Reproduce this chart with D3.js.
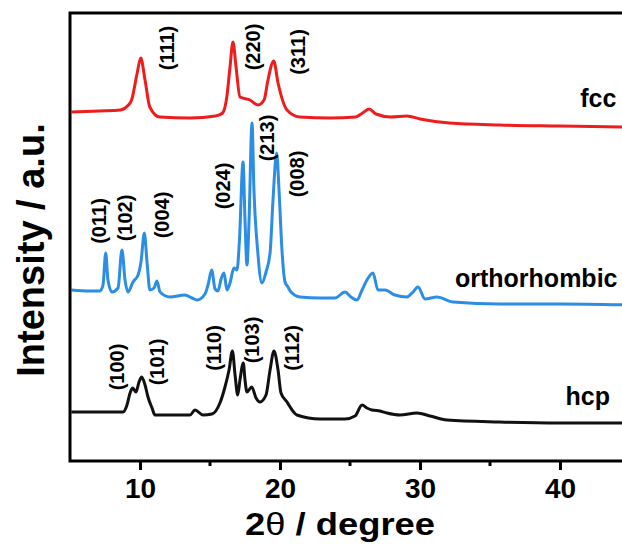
<!DOCTYPE html>
<html>
<head>
<meta charset="utf-8">
<script src="https://cdn.jsdelivr.net/npm/d3@7"></script>
<style>
  html, body { margin: 0; padding: 0; background: #fff; }
  svg { display: block; font-family: "Liberation Sans", Arial, sans-serif; font-weight: bold; }
</style>
</head>
<body>
<svg id="chart" width="622" height="547"></svg>
<script>
// XRD patterns, [2theta (deg), intensity (a.u., stacked)]
const fcc = [
  [5.1, 3490], [7.1, 3500], [8.6, 3510], [9.1, 3550], [9.4, 3610], [9.8, 3880],
  [10.05, 4030], [10.36, 3810], [10.7, 3540], [11.4, 3440], [13.6, 3430],
  [15.4, 3450], [15.9, 3480], [16.2, 3640], [16.43, 3940], [16.64, 4190],
  [16.86, 3940], [17.14, 3640], [17.86, 3610], [18.43, 3560], [18.86, 3610],
  [19.14, 3810], [19.55, 4000], [19.86, 3780], [20.5, 3510], [21.4, 3440],
  [23.6, 3430], [25.4, 3440], [25.9, 3480], [26.36, 3520], [26.86, 3470],
  [27.9, 3440], [29.07, 3450], [30.0, 3420], [32.1, 3380], [35.7, 3360],
  [40.0, 3350], [45.0, 3340]
];

const ortho = [
  [5.1, 1710], [6.4, 1700], [7.14, 1700], [7.36, 1760], [7.55, 2080], [7.71, 1810],
  [8.0, 1690], [8.43, 1730], [8.71, 2110], [8.93, 1810], [9.14, 1690], [9.5, 1790],
  [9.86, 1860], [10.07, 1990], [10.31, 2280], [10.5, 1990], [10.71, 1710],
  [11.0, 1730], [11.21, 1800], [11.43, 1690], [12.14, 1640], [13.21, 1660],
  [13.71, 1630], [14.07, 1610], [14.64, 1670], [14.86, 1760], [15.12, 1910],
  [15.36, 1720], [15.57, 1700], [15.79, 1820], [16.0, 1880], [16.21, 1710],
  [16.43, 1780], [16.71, 1930], [16.93, 1910], [17.1, 2200], [17.36, 2990],
  [17.5, 2410], [17.64, 1960], [17.79, 2410], [18.0, 3380], [18.14, 2710],
  [18.4, 2110], [18.71, 1780], [19.0, 1890], [19.29, 2080], [19.5, 2610],
  [19.76, 3080], [19.93, 2710], [20.14, 2110], [20.36, 1790], [20.57, 1740],
  [20.79, 1690], [21.43, 1640], [22.86, 1630], [23.93, 1630], [24.64, 1690],
  [25.07, 1640], [25.5, 1610], [25.86, 1710], [26.21, 1810], [26.64, 1880],
  [27.0, 1710], [27.5, 1710], [28.21, 1660], [29.07, 1640], [29.5, 1690],
  [29.86, 1740], [30.36, 1620], [31.21, 1640], [32.36, 1590], [35.7, 1570],
  [40.0, 1570], [45.0, 1560]
];

const hcp = [
  [5.1, 490], [7.14, 490], [8.79, 490], [9.07, 560], [9.29, 680], [9.48, 730],
  [9.71, 690], [9.93, 790], [10.12, 840], [10.36, 760], [10.57, 640],
  [10.86, 530], [11.07, 460], [12.5, 460], [13.57, 460], [13.93, 510],
  [14.5, 460], [15.14, 470], [15.71, 580], [16.07, 740], [16.36, 910],
  [16.6, 1100], [16.79, 860], [16.98, 660], [17.14, 810], [17.38, 980],
  [17.5, 810], [17.64, 690], [17.98, 740], [18.29, 630], [18.57, 590],
  [19.0, 660], [19.29, 910], [19.57, 1100], [19.86, 910], [20.07, 680],
  [20.5, 590], [20.86, 510], [21.21, 460], [22.86, 420], [24.64, 420],
  [25.36, 450], [25.86, 560], [26.21, 530], [26.57, 510], [27.14, 500],
  [27.64, 480], [28.57, 460], [29.79, 480], [30.71, 450], [31.93, 410],
  [35.7, 390], [40.0, 380], [45.0, 380]
];

const seriesNames = ["fcc", "orthorhombic", "hcp"];
const seriesColors = ["#ee1c1c", "#2b8de3", "#111111"];

// peak indices: label, 2theta, intensity where label is centred
const peakLabels = ["(111)", "(220)", "(311)", "(011)", "(102)", "(004)", "(024)", "(213)", "(008)",
                    "(100)", "(101)", "(110)", "(103)", "(112)"];
const peakTheta = [11.93, 18.07, 21.29, 7.09, 8.93, 11.55, 15.93, 19.05, 21.21,
                   8.34, 11.19, 15.29, 17.98, 20.84];
const peakI = [4130, 4140, 4090, 2400, 2430, 2460, 2750, 3230, 2870,
               940, 990, 1130, 1210, 1130];

// phase name positions (2theta, intensity at baseline of text)
const phaseTheta = [41.45, 32.5, 40.4];
const phaseI = [3540, 1740, 560];

const xTicks = [10, 20, 30, 40];
const xMinorTicks = [15, 25, 35];

const svg = d3.select("#chart");
const m = { left: 70, top: 13, bottom: 86 };
const H = 547;

const x = d3.scaleLinear().domain([5, 45]).range([m.left, m.left + 560]);
const y = d3.scaleLinear().domain([0, 4480]).range([H - m.bottom, m.top]);

const line = d3.line()
  .x((d) => x(d[0]))
  .y((d) => y(d[1]))
  .curve(d3.curveMonotoneX);

[fcc, ortho, hcp].forEach((data, i) => {
  svg.append("path")
    .datum(data)
    .attr("fill", "none")
    .attr("stroke", seriesColors[i])
    .attr("stroke-width", 3)
    .attr("stroke-linejoin", "round")
    .attr("d", line);
});

// frame: left, top, bottom
const y0 = y(0), y1 = y(4480);
svg.append("path")
  .attr("d", `M${x(45) + 5},${y1}H${m.left}V${y0}H${x(45) + 5}`)
  .attr("fill", "none")
  .attr("stroke", "#000")
  .attr("stroke-width", 3);

const xAxis = svg.append("g").attr("transform", `translate(0,${y0})`);
xAxis.call(d3.axisBottom(x).tickValues(xTicks).tickSize(9).tickPadding(8).tickFormat(d3.format("d")))
  .call((g) => g.select(".domain").remove())
  .call((g) => g.selectAll(".tick line").attr("stroke-width", 3))
  .call((g) => g.selectAll(".tick text")
    .attr("font-family", "Liberation Sans, Arial, sans-serif")
    .attr("font-weight", "bold")
    .attr("font-size", 28)
    .attr("fill", "#000"));
xAxis.selectAll(".minor")
  .data(xMinorTicks)
  .join("line")
  .attr("x1", (d) => x(d))
  .attr("x2", (d) => x(d))
  .attr("y1", 0)
  .attr("y2", 5)
  .attr("stroke", "#000")
  .attr("stroke-width", 3);

// axis titles
const xTitle = svg.append("text")
  .attr("x", 340)
  .attr("y", 535)
  .attr("text-anchor", "middle")
  .attr("font-size", 32)
  .attr("textLength", 190)
  .attr("lengthAdjust", "spacingAndGlyphs");
xTitle.append("tspan").text("2");
xTitle.append("tspan").attr("font-weight", "normal").text("θ");
xTitle.append("tspan").text(" / degree");

svg.append("text")
  .attr("transform", `translate(44,250) rotate(-90)`)
  .attr("text-anchor", "middle")
  .attr("font-size", 38)
  .text("Intensity / a.u.");

// peak indices
svg.selectAll(".peak")
  .data(peakLabels)
  .join("text")
  .attr("class", "peak")
  .attr("transform", (d, i) => `translate(${x(peakTheta[i])},${y(peakI[i])}) rotate(-90)`)
  .attr("text-anchor", "middle")
  .attr("dominant-baseline", "central")
  .attr("font-size", 20)
  .text((d) => d);

// phase names
svg.selectAll(".phase")
  .data(seriesNames)
  .join("text")
  .attr("class", "phase")
  .attr("x", (d, i) => x(phaseTheta[i]))
  .attr("y", (d, i) => y(phaseI[i]))
  .attr("font-size", 25)
  .text((d) => d);
</script>
</body>
</html>
